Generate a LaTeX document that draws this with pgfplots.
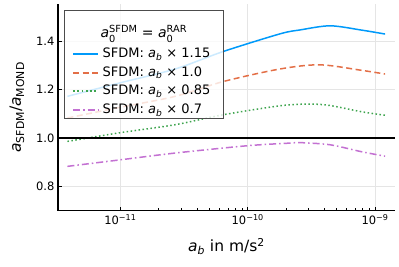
\documentclass[border=0pt]{standalone}
\usepackage{fontspec}
\setmainfont{DejaVu Sans}
\usepackage{amsmath}
\usepackage{pgfplots}
\pgfplotsset{compat=1.18}
\definecolor{c1}{RGB}{0,154,250}
\definecolor{c2}{RGB}{227,111,71}
\definecolor{c3}{RGB}{62,164,78}
\definecolor{c4}{RGB}{195,113,210}
\newcommand\es{\rule[-3.5pt]{0pt}{13.5pt}}
\begin{document}
\begin{tikzpicture}
\begin{axis}[name=ax,
  scale only axis, width=337pt, height=206.7pt,
  xmode=log, xmin=3.236e-12, xmax=1.435e-9,
  ymin=0.7, ymax=1.553,
  axis x line*=bottom, axis y line*=left,
  axis line style={line width=1.3pt, -},
  tick align=inside, major tick length=4pt,
  tick style={black, line width=0.6pt},
  xtick={1e-11,1e-10,1e-9},
  xticklabels={10\textsuperscript{−11},10\textsuperscript{−10},10\textsuperscript{−9}},
  minor xtick={},
  ytick={0.8,1.0,1.2,1.4}, yticklabels={0.8,1.0,1.2,1.4},
  grid=major, major grid style={black!10, line width=0.5pt},
  ticklabel style={font=\fontsize{11.5}{13}\selectfont},
  xlabel={\textit{a}$_{\textit{b}}$ in m/s$^{\text{2}}$},
  ylabel={\textit{a}$_{\text{SFDM}}$/\textit{a}$_{\text{MOND}}$},
  label style={font=\fontsize{15.5}{18}\selectfont},
  xlabel style={at={(rel axis cs:0.5,0)}, anchor=center, yshift=-36pt},
  ylabel style={at={(axis description cs:-0.1217,0.5)}, anchor=center},
  legend cell align=left,
  legend style={at={(rel axis cs:0.0178,0.971)}, anchor=north west,
    draw=black!70, line width=1pt, fill=white, fill opacity=0.8, text opacity=1,
    draw opacity=1,
    font=\fontsize{13}{15}\selectfont, inner xsep=7.8pt, inner ysep=0pt,
    nodes={inner sep=1.5pt, text height=, text depth=}, row sep=2.1pt,
    /tikz/every odd column/.append style={column sep=2pt}},
]
\addlegendimage{legend image code/.code={}}
\addlegendentry{\hspace*{-2pt}{\fontsize{14}{16}\selectfont\textit{a}$_{\text{0}}^{\text{SFDM}}$ = \textit{a}$_{\text{0}}^{\text{RAR}}$}\rule[-3.4pt]{0pt}{29.2pt}}
\addplot[c1, line width=1.5pt, smooth,
  legend image code/.code={\draw[c1, line width=1.7pt] (0pt,0pt) -- (25pt,0pt);}] coordinates {
 (3.84e-12,1.172) (1e-11,1.228) (2.7e-11,1.285) (6.43e-11,1.357) (1.8e-10,1.430)
 (2.58e-10,1.446) (4.44e-10,1.463) (7.9e-10,1.445) (1.2e-9,1.429)};
\addlegendentry{SFDM: \textit{a}$_{\textit{b}}$ × 1.15\es\hspace*{3.5pt}}
\addplot[c2, line width=1.5pt, smooth, dash pattern=on 6pt off 3.5pt,
  legend image code/.code={\draw[c2, line width=1.7pt, dash pattern=on 6pt off 3.5pt] (0pt,0pt) -- (25pt,0pt);}] coordinates {
 (3.84e-12,1.0825) (1e-11,1.127) (2.7e-11,1.172) (6.43e-11,1.233) (1.8e-10,1.285)
 (3.7e-10,1.302) (7.9e-10,1.279) (1.2e-9,1.264)};
\addlegendentry{SFDM: \textit{a}$_{\textit{b}}$ × 1.0\es}
\addplot[c3, line width=1.5pt, smooth, dash pattern=on 1.5pt off 2.5pt,
  legend image code/.code={\draw[c3, line width=1.8pt, dash pattern=on 1.8pt off 2.4pt] (0pt,0.5pt) -- (25pt,0.5pt);}] coordinates {
 (3.84e-12,0.986) (1e-11,1.022) (2.7e-11,1.055) (6.43e-11,1.096) (1.8e-10,1.133)
 (3.09e-10,1.140) (4.44e-10,1.134) (7.9e-10,1.108) (1.2e-9,1.094)};
\addlegendentry{SFDM: \textit{a}$_{\textit{b}}$ × 0.85\es\hspace*{3.5pt}}
\addplot[c4, line width=1.5pt, smooth, dash pattern=on 7pt off 3pt on 1.5pt off 3pt,
  legend image code/.code={\draw[c4, line width=1.7pt, dash pattern=on 7pt off 3pt on 1.5pt off 3pt] (0pt,0pt) -- (25pt,0pt);}] coordinates {
 (3.84e-12,0.883) (1e-11,0.910) (2.7e-11,0.938) (9.9e-11,0.968) (2.15e-10,0.979)
 (2.58e-10,0.981) (4.44e-10,0.972) (7.9e-10,0.943) (1.2e-9,0.925)};
\addlegendentry{SFDM: \textit{a}$_{\textit{b}}$ × 0.7\es}
\addplot[black, line width=1.3pt, forget plot] coordinates {(3.236e-12,1) (1.435e-9,1)};
\end{axis}
\pgfresetboundingbox
\path ([shift={(-58pt,-55.3pt)}]ax.south west) rectangle ([shift={(4pt,4pt)}]ax.north east);
\end{tikzpicture}
\end{document}
